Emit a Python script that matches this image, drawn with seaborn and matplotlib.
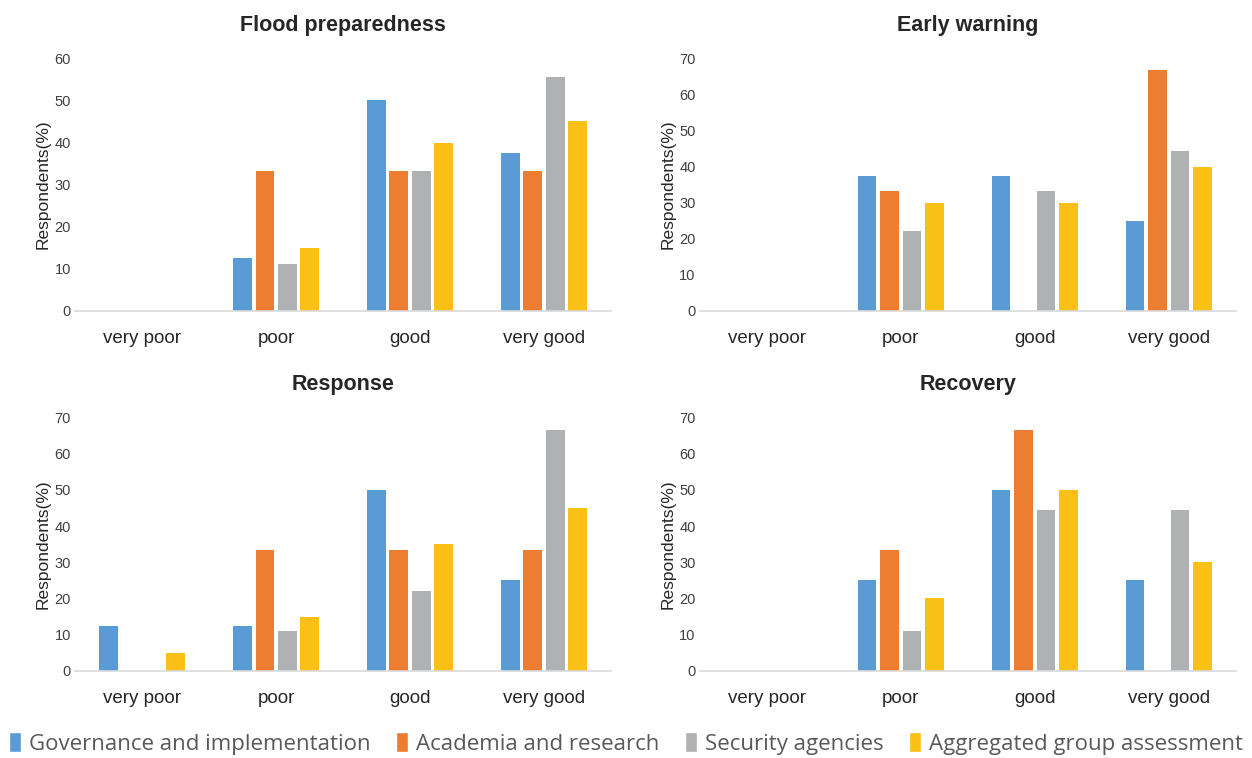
import matplotlib
matplotlib.use("Agg")
import matplotlib.pyplot as plt
import numpy as np
import pandas as pd
import seaborn as sns
from matplotlib.patches import Patch

sns.set_style("white")
plt.rcParams["font.family"] = ["Liberation Sans", "DejaVu Sans"]

categories = ["very poor", "poor", "good", "very good"]
groups = ["Governance and implementation", "Academia and research",
          "Security agencies", "Aggregated group assessment"]
colors = ["#5B9BD5", "#ED7D31", "#B0B1B3", "#FBC015"]

# percentages per panel, one list per group (order of `groups`)
flood_prep = [[0, 12.5, 50, 37.5],
              [0, 33.3, 33.3, 33.3],
              [0, 11.1, 33.3, 55.6],
              [0, 15, 40, 45]]
early_warning = [[0, 37.5, 37.5, 25],
                 [0, 33.3, 0, 66.7],
                 [0, 22.2, 33.3, 44.4],
                 [0, 30, 30, 40]]
response = [[12.5, 12.5, 50, 25],
            [0, 33.3, 33.3, 33.3],
            [0, 11.1, 22.2, 66.7],
            [5, 15, 35, 45]]
recovery = [[0, 25, 50, 25],
            [0, 33.3, 66.7, 0],
            [0, 11.1, 44.4, 44.4],
            [0, 20, 50, 30]]

panels = [("Flood preparedness", flood_prep, 60),
          ("Early warning", early_warning, 70),
          ("Response", response, 70),
          ("Recovery", recovery, 70)]

fig = plt.figure(figsize=(12.52, 7.58), dpi=100)
rects = [[0.060, 0.590, 0.428, 0.333],
         [0.559, 0.590, 0.428, 0.333],
         [0.060, 0.115, 0.428, 0.334],
         [0.559, 0.115, 0.428, 0.334]]

for (title, vals, ymax), r in zip(panels, rects):
    ax = fig.add_axes(r)
    rows = []
    for g, v in zip(groups, vals):
        for c, x in zip(categories, v):
            rows.append([c, g, x])
    df = pd.DataFrame(rows, columns=["cat", "group", "val"])
    sns.barplot(data=df, x="cat", y="val", hue="group", order=categories,
                hue_order=groups, palette=colors, saturation=1, width=0.67,
                gap=0.17, linewidth=0, ax=ax, legend=False)
    ax.set_ylim(0, ymax)
    ax.set_yticks(np.arange(0, ymax + 1, 10))
    ax.set_xlim(-0.5, 3.5)
    for s in ["top", "right", "left"]:
        ax.spines[s].set_visible(False)
    ax.spines["bottom"].set_color("#D9D9D9")
    ax.spines["bottom"].set_linewidth(1.2)
    ax.tick_params(axis="y", length=0, labelsize=10.5, labelcolor="#404040", pad=3)
    ax.tick_params(axis="x", length=0, labelsize=13.5, labelcolor="#262626", pad=14)
    ax.set_xlabel("")
    ax.set_ylabel("Respondents(%)", fontsize=12.5, color="#262626", labelpad=3)
    ax.set_title(title, fontsize=15.5, fontweight="bold", pad=20)

handles = [Patch(facecolor=c) for c in colors]
fig.legend(handles, groups, loc="lower center", bbox_to_anchor=(0.5, -0.022),
           ncol=4, frameon=False, handlelength=0.55, handleheight=1.0,
           handletextpad=0.35, columnspacing=1.15,
           prop={"family": "Open Sans", "size": 16}, labelcolor="#595959")

fig.savefig("out.png", dpi=100)
